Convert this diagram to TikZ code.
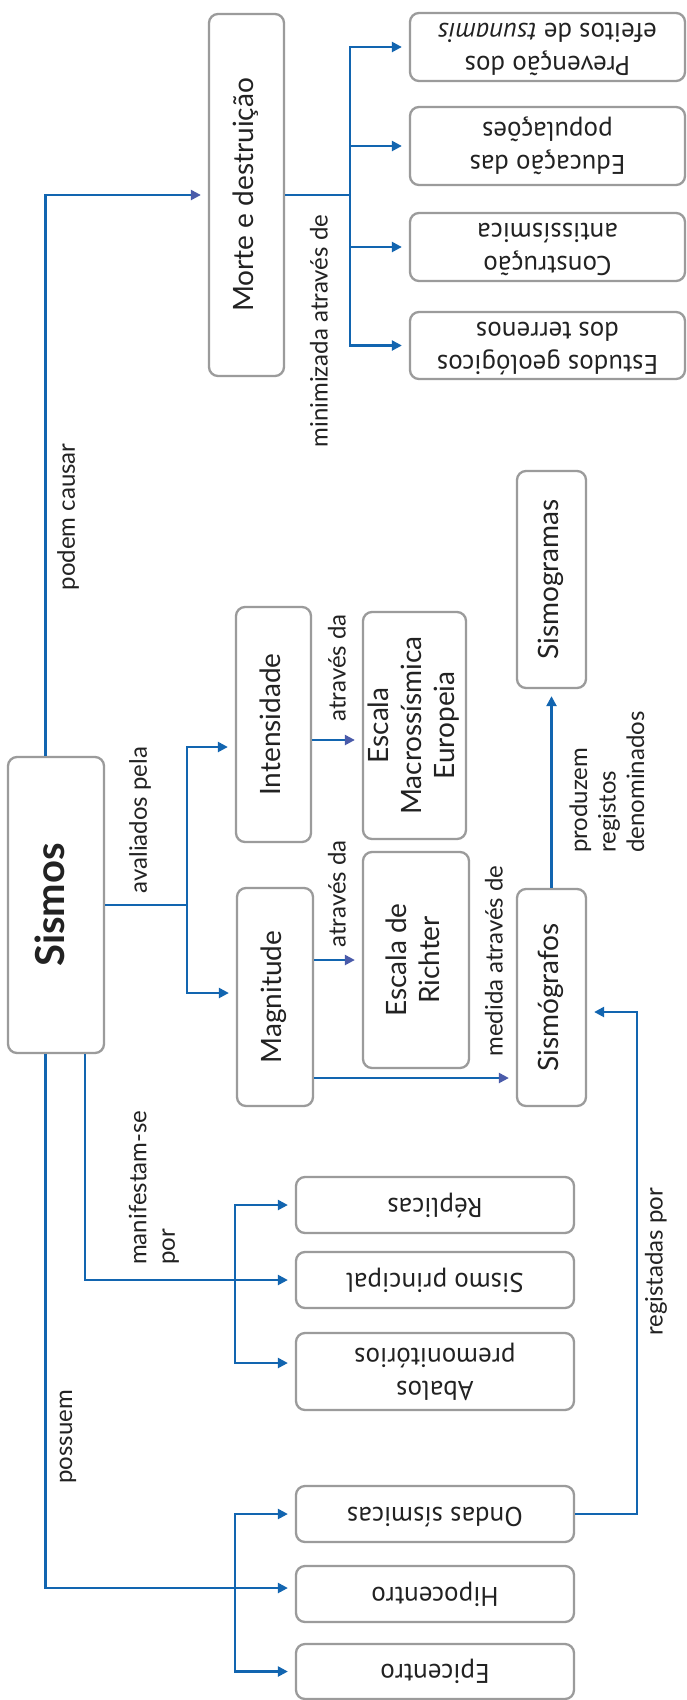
\documentclass[tikz,border=0pt]{standalone}
\usepackage{fontspec}
\setmainfont{Lato}
\newfontfamily\dinfont{PT Sans}
\usepackage{graphicx}
\usetikzlibrary{arrows.meta}
\definecolor{linkblue}{HTML}{1265B0}
\definecolor{tippurple}{HTML}{4A5BAA}
\definecolor{boxgray}{HTML}{9B9B9B}
\definecolor{inkgray}{HTML}{222222}
\newcommand{\vtext}[1]{\rotatebox{90}{\begin{tabular}{@{}c@{}}#1\end{tabular}}}
\newcommand{\ftext}[1]{\rotatebox{180}{\begin{tabular}{@{}c@{}}#1\end{tabular}}}
\tikzset{
  box/.style={
    draw=boxgray,
    line width=2.3pt,
    rounded corners=9pt,
    fill=white,
    inner sep=0pt,
    text=inkgray,
    font=\fontsize{28}{33}\selectfont
  },
  flipbox/.style={box, font=\dinfont\fontsize{27}{33}\selectfont},
  conn/.style={draw=linkblue, line width=2.3pt},
  arrow/.style={conn, shorten >=7pt, -{Triangle[length=10pt,width=10pt]}},
  arrowp/.style={arrow, -{Triangle[length=10pt,width=10pt,color=tippurple]}},
  lbl/.style={rotate=90, inner sep=0pt, text=inkgray, font=\fontsize{24}{28.5}\selectfont}
}
\begin{document}
\begin{tikzpicture}[x=1pt, y=-1pt]
  \useasboundingbox[fill=white] (0,0) rectangle (686,1700);

  % consequences
  \node[box, minimum width=75pt, minimum height=362pt] (morte) at (246.5,195)
    {\vtext{Morte e destruição}};
  \node[flipbox, minimum width=275pt, minimum height=68pt] (prev) at (547.5,47)
    {\ftext{Prevenção dos\\efeitos de \textit{tsunamis}}};
  \node[flipbox, minimum width=275pt, minimum height=78pt] (educ) at (547.5,146)
    {\ftext{Educação das\\populações}};
  \node[flipbox, minimum width=275pt, minimum height=68pt] (constr) at (547.5,247)
    {\ftext{Construção\\antissísmica}};
  \node[flipbox, minimum width=275pt, minimum height=67pt] (estudos) at (547.5,345.5)
    {\ftext{Estudos geológicos\\dos terrenos}};

  % central concept and its measures
  \node[box, minimum width=96pt, minimum height=296pt,
    font=\bfseries\fontsize{40}{44}\selectfont] (sismos) at (56,905)
    {\vtext{Sismos}};
  \node[box, minimum width=75pt, minimum height=235pt] (intens) at (273.5,724.5)
    {\vtext{Intensidade}};
  \node[box, minimum width=103pt, minimum height=227pt] (macro) at (414.5,725.5)
    {\vtext{Escala\\Macrossísmica\\Europeia}};
  \node[box, minimum width=76pt, minimum height=218pt] (magn) at (275,997)
    {\vtext{Magnitude}};
  \node[box, minimum width=106pt, minimum height=216pt] (richter) at (416,960)
    {\vtext{Escala de\\Richter}};
  \node[box, minimum width=69pt, minimum height=217pt] (sismografos) at (551.5,997.5)
    {\vtext{Sismógrafos}};
  \node[box, minimum width=69pt, minimum height=217pt] (sismogramas) at (551.5,579.5)
    {\vtext{Sismogramas}};

  % manifestations and features
  \node[flipbox, minimum width=278pt, minimum height=56pt] (replicas) at (435,1205)
    {\ftext{Réplicas}};
  \node[flipbox, minimum width=278pt, minimum height=56pt] (principal) at (435,1280)
    {\ftext{Sismo principal}};
  \node[flipbox, minimum width=278pt, minimum height=77pt] (abalos) at (435,1371.5)
    {\ftext{Abalos\\premonitórios}};
  \node[flipbox, minimum width=278pt, minimum height=56pt] (ondas) at (435,1514)
    {\ftext{Ondas sísmicas}};
  \node[flipbox, minimum width=278pt, minimum height=56pt] (hipo) at (435,1594)
    {\ftext{Hipocentro}};
  \node[flipbox, minimum width=278pt, minimum height=55pt] (epi) at (435,1671.5)
    {\ftext{Epicentro}};

  % linking phrases
  \node[lbl] (causar) at (68,517) {podem causar};
  \node[lbl] (minim) at (319,331) {minimizada através de};
  \node[lbl] (avaliados) at (140,820) {avaliados pela};
  \node[lbl] (atrav1) at (337,668) {através da};
  \node[lbl] (atrav2) at (337,894) {através da};
  \node[lbl] (medida) at (494,961) {medida através de};
  \node[lbl, anchor=west, align=left] (produzem) at (607,853)
    {produzem\\registos\\denominados};
  \node[lbl, anchor=west, align=left] (manifest) at (154,1265)
    {manifestam-se\\por};
  \node[lbl] (registadas) at (656,1262) {registadas por};
  \node[lbl] (possuem) at (68,1437) {possuem};

  % connectors
  \draw[arrowp] ([xshift=-10.5pt]sismos.north) |- (morte.west);
  \path (morte.east) -- ++(65,0) coordinate (mj);
  \foreach \b in {prev,educ,constr,estudos}
    \draw[arrow] (mj) |- (\b.west);
  \draw[conn] (morte.east) -- (mj);

  \path (sismos.east) -- ++(82,0) coordinate (aj);
  \draw[conn] (sismos.east) -- (aj);
  \draw[arrow] (aj) |- ([yshift=-22.5pt]intens.west);
  \draw[arrow] (aj) |- ([yshift=4pt]magn.west);
  \draw[arrowp] ([yshift=-15.5pt]intens.east) -- ([yshift=-15.5pt]intens.east -| macro.west);
  \draw[arrowp] (magn.east |- richter.west) -- (richter.west);
  \draw[arrowp] ([yshift=-81pt]magn.east) -- ([yshift=-81pt]magn.east -| sismografos.west);
  \draw[arrow] (sismografos.north) -- (sismogramas.south);
  \draw[arrow] (ondas.east) -- ++(62,0) |- ([yshift=-14.5pt]sismografos.east);

  \draw[arrow] ([xshift=29pt]sismos.south) |- (principal.west);
  \path (principal.west) ++(-60,0) coordinate (mnj);
  \draw[arrow] (mnj) |- (replicas.west);
  \draw[arrow] (mnj) |- ([yshift=8.5pt]abalos.west);

  \draw[arrow] ([xshift=-10.5pt]sismos.south) |- ([yshift=6pt]hipo.west);
  \path ([yshift=6pt]hipo.west) ++(-60,0) coordinate (pj);
  \draw[arrow] (pj) |- (ondas.west);
  \draw[arrow] (pj) |- (epi.west);
\end{tikzpicture}
\end{document}
